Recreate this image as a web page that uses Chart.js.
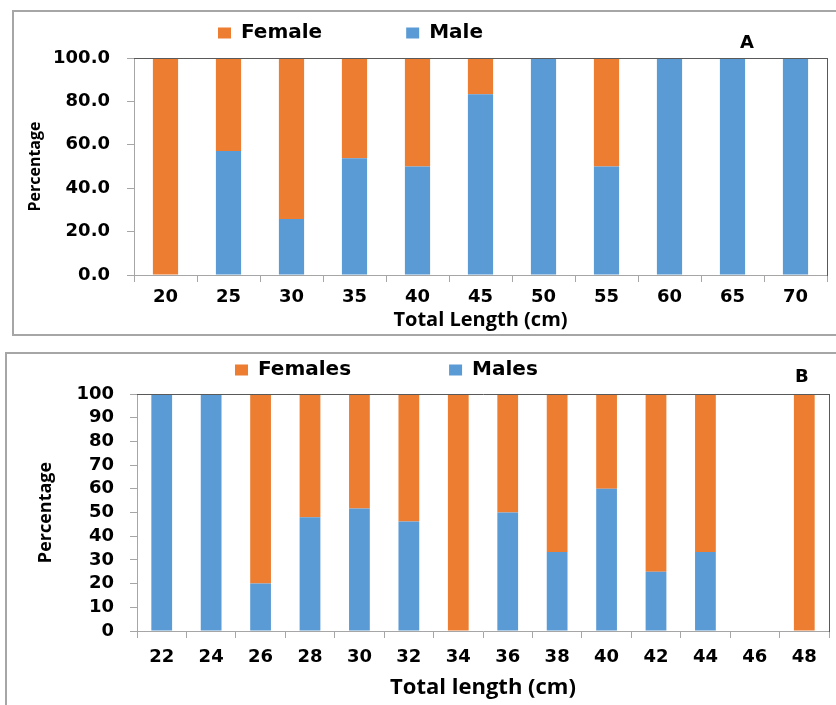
<!DOCTYPE html>
<html><head><meta charset="utf-8">
<script src="https://cdn.jsdelivr.net/npm/chart.js@4.4.1/dist/chart.umd.min.js"></script>
<style>
html,body{margin:0;padding:0;background:#fff;}
body{width:836px;height:705px;position:relative;overflow:hidden;}
.frame{position:absolute;border:2px solid #a6a6a6;box-sizing:border-box;}
#frameA{left:12px;top:10px;width:840px;height:326px;}
#frameB{left:5px;top:352px;width:850px;height:400px;}
canvas{position:absolute;left:0;}
#cA{top:-61px;}
#cB{top:262px;}
.tag{position:absolute;font:bold 18px "DejaVu Sans";color:#000;line-height:1;}
#tagA{left:740px;top:33px;}
#tagB{left:795px;top:367px;}
</style></head>
<body>
<div class="frame" id="frameA"></div>
<div class="frame" id="frameB"></div>
<canvas id="cA" width="836" height="401"></canvas>
<canvas id="cB" width="836" height="443"></canvas>
<div class="tag" id="tagA">A</div>
<div class="tag" id="tagB">B</div>
<script>
// ---- Data: panel A ----
const lengthsA = ['20','25','30','35','40','45','50','55','60','65','70'];
const maleA    = [0, 57.1, 25.8, 53.8, 50.0, 83.3, 100, 50.0, 100, 100, 100];
const femaleA  = [100, 42.9, 74.2, 46.2, 50.0, 16.7, 0, 50.0, 0, 0, 0];
const ticksA   = [0, 20, 40, 60, 80, 100];

// ---- Data: panel B ----
const lengthsB = ['22','24','26','28','30','32','34','36','38','40','42','44','46','48'];
const maleB    = [100, 100, 20, 48, 51.7, 46.2, 0, 50, 33.3, 60, 25, 33.3, 0, 0];
const femaleB  = [0, 0, 80, 52, 48.3, 53.8, 100, 50, 66.7, 40, 75, 66.7, 0, 100];
const ticksB   = [0, 10, 20, 30, 40, 50, 60, 70, 80, 90, 100];

const FEMALE_COLOR = '#ED7D31';
const MALE_COLOR = '#5B9BD5';
const AXIS_COLOR = '#a6a6a6';
const FRAME_COLOR = '#595959';

function makeChart(canvasId, s) {
  const legendFix = {
    id: 'legendFix',
    beforeInit(chart) {
      const lg = chart.legend;
      if (!lg) return;
      const orig = lg.fit;
      lg.fit = function() { orig.call(this); this.height = s.legendHeight; };
    }
  };
  const tickFont = {family: '"DejaVu Sans"', weight: 'bold', size: s.tickSize};
  return new Chart(document.getElementById(canvasId), {
    type: 'bar',
    data: {
      labels: s.labels,
      datasets: [
        {label: s.maleLabel, data: s.male, backgroundColor: MALE_COLOR, borderWidth: 0,
         barPercentage: s.barPct, categoryPercentage: 1.0},
        {label: s.femaleLabel, data: s.female, backgroundColor: FEMALE_COLOR, borderWidth: 0,
         barPercentage: s.barPct, categoryPercentage: 1.0}
      ]
    },
    options: {
      responsive: false,
      animation: false,
      devicePixelRatio: 1,
      layout: {padding: {left: 0, right: s.padRight, top: 0, bottom: 0}},
      plugins: {
        tooltip: {enabled: false},
        legend: {
          display: true, position: 'top', align: 'start', fullSize: false, reverse: true,
          labels: {
            boxWidth: 13, boxHeight: 11, padding: s.legendGap, color: '#000',
            font: {family: '"DejaVu Sans"', weight: 'bold', size: 20}
          }
        }
      },
      scales: {
        x: {
          type: 'category', position: 'bottom', stacked: true, offset: true,
          grid: {display: true, drawOnChartArea: false, drawTicks: true, tickLength: 7, color: AXIS_COLOR, offset: true},
          border: {display: true, color: AXIS_COLOR, width: 1},
          ticks: {color: '#000', font: tickFont, padding: s.xTickPad, maxRotation: 0, autoSkip: false},
          title: {display: true, text: s.xTitle, color: '#000',
                  font: {family: '"Open Sans"', weight: 'bold', size: s.xTitleSize},
                  padding: {top: 0, bottom: s.xTitlePad}},
          afterFit: sc => { sc.height = s.xHeight; }
        },
        y: {
          type: 'linear', position: 'left', stacked: true, min: 0, max: 100,
          grid: {display: true, drawOnChartArea: false, drawTicks: true, tickLength: 7, color: AXIS_COLOR},
          border: {display: true, color: AXIS_COLOR, width: 1},
          ticks: {color: '#000', font: tickFont, padding: s.yTickPad, autoSkip: false,
                  callback: v => s.fmt(v)},
          afterBuildTicks: sc => { sc.ticks = s.yTicks.map(v => ({value: v})); },
          title: {display: true, text: 'Percentage', color: '#000',
                  font: {family: '"Open Sans"', weight: 'bold', size: s.yTitleSize},
                  padding: {top: s.yTitlePad, bottom: 0}},
          afterFit: sc => { sc.width = s.yWidth; }
        },
        xTop: {
          type: 'category', position: 'top', display: true,
          grid: {display: false}, ticks: {display: false},
          border: {display: true, color: FRAME_COLOR, width: 1, z: 1},
          afterFit: sc => { sc.height = 0; }
        },
        yRight: {
          type: 'linear', position: 'right', display: true,
          grid: {display: false}, ticks: {display: false},
          border: {display: true, color: FRAME_COLOR, width: 1, z: 1},
          afterFit: sc => { sc.width = 0; }
        }
      }
    },
    plugins: [legendFix]
  });
}

makeChart('cA', {
  labels: lengthsA, male: maleA, female: femaleA, yTicks: ticksA,
  maleLabel: 'Male', femaleLabel: 'Female',
  fmt: v => Number(v).toFixed(1), tickSize: 18,
  barPct: 0.40, padRight: 9, legendGap: 84, legendHeight: 119,
  xHeight: 65, xTickPad: 5, xTitle: 'Total Length (cm)', xTitleSize: 20, xTitlePad: 8,
  yWidth: 134, yTickPad: 17, yTitleSize: 16, yTitlePad: 26
});

makeChart('cB', {
  labels: lengthsB, male: maleB, female: femaleB, yTicks: ticksB,
  maleLabel: 'Males', femaleLabel: 'Females',
  fmt: v => String(v), tickSize: 18,
  barPct: 0.42, padRight: 7, legendGap: 98, legendHeight: 132,
  xHeight: 74, xTickPad: 9, xTitle: 'Total length (cm)', xTitleSize: 22, xTitlePad: 4,
  yWidth: 137, yTickPad: 16, yTitleSize: 18, yTitlePad: 35
});
</script>
</body></html>
